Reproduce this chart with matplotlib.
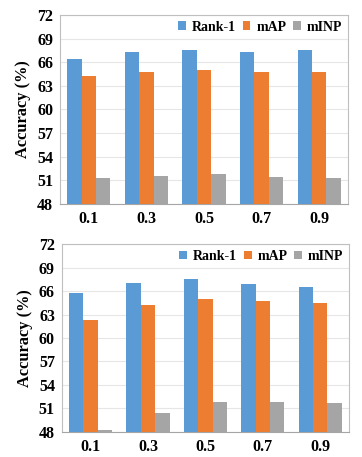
import matplotlib
matplotlib.use("Agg")
import matplotlib.pyplot as plt
import numpy as np

categories = ["0.1", "0.3", "0.5", "0.7", "0.9"]
series_names = ["Rank-1", "mAP", "mINP"]
top_rank1 = [66.4, 67.3, 67.5, 67.3, 67.5]
top_map = [64.2, 64.8, 65.0, 64.7, 64.7]
top_minp = [51.3, 51.6, 51.8, 51.4, 51.3]
bot_rank1 = [65.7, 67.1, 67.6, 66.9, 66.5]
bot_map = [62.3, 64.2, 65.0, 64.7, 64.5]
bot_minp = [48.2, 50.4, 51.8, 51.8, 51.7]
yticks = [48, 51, 54, 57, 60, 63, 66, 69, 72]
colors = ["#5B9BD5", "#ED7D31", "#A5A5A5"]

plt.rcParams['font.family'] = ['Liberation Serif', 'DejaVu Serif']
plt.rcParams['font.weight'] = 'bold'

fig = plt.figure(figsize=(3.62, 4.57), dpi=100)
ax1 = fig.add_axes([0.166, 0.5536, 0.795, 0.4136])
ax2 = fig.add_axes([0.171, 0.0554, 0.793, 0.41])

def draw(ax, data):
    x = np.arange(len(categories))
    w = 0.25
    for i, (vals, name) in enumerate(zip(data, series_names)):
        ax.bar(x + (i - 1) * w, np.array(vals) - 48, w, bottom=48,
               color=colors[i], label=name, zorder=3)
    ax.set_xlim(-0.5, len(categories) - 0.5)
    ax.set_ylim(48, 72)
    ax.set_yticks(yticks)
    ax.set_yticklabels([str(t) for t in yticks], fontsize=11.5, fontweight='bold')
    ax.set_xticks(x)
    ax.set_xticklabels(categories, fontsize=11.5, fontweight='bold')
    ax.tick_params(length=0, pad=5)
    ax.yaxis.grid(True, color='#E6E6E6', linewidth=0.8, zorder=0)
    ax.set_axisbelow(True)
    for s in ax.spines.values():
        s.set_color('#BFBFBF')
        s.set_linewidth(0.8)
    ax.spines['bottom'].set_color('#A6A6A6')
    ax.set_ylabel("Accuracy (%)", fontsize=11.8, fontweight='bold', labelpad=4)
    ax.legend(loc='upper right', ncol=3, frameon=False,
              handlelength=0.55, handleheight=0.55, handletextpad=0.43,
              columnspacing=0.5, borderaxespad=0.1, borderpad=0.3,
              prop={'weight': 'bold', 'size': 10})

draw(ax1, [top_rank1, top_map, top_minp])
draw(ax2, [bot_rank1, bot_map, bot_minp])

fig.savefig("out.png", dpi=100)
